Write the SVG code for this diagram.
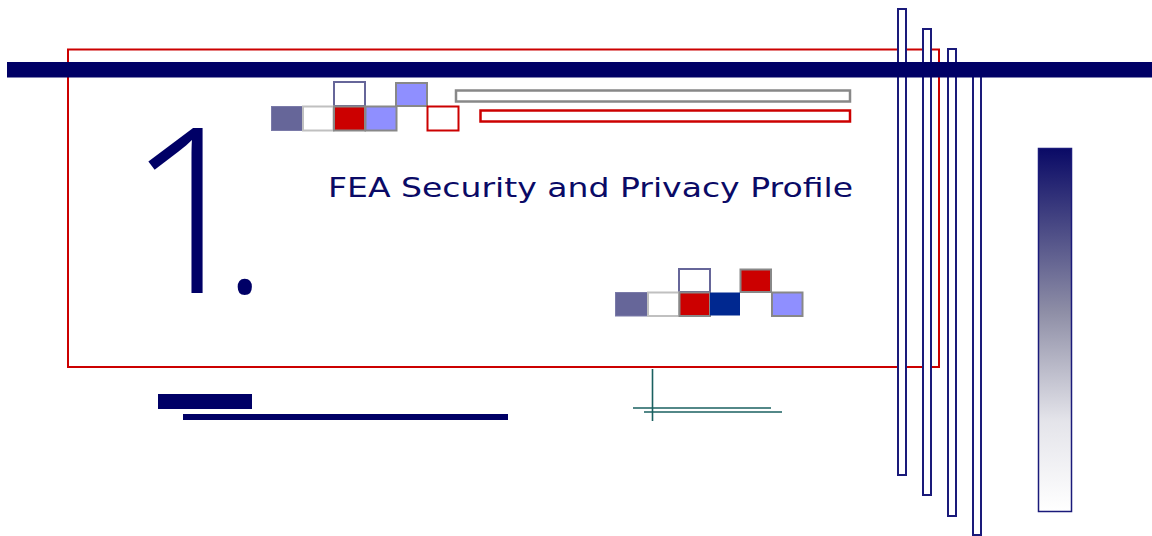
<svg xmlns="http://www.w3.org/2000/svg" width="1152" height="536" viewBox="0 0 1152 536">
  <defs>
    <linearGradient id="fade" x1="0" y1="0" x2="0" y2="1">
      <stop offset="0" stop-color="#0a0a66"/>
      <stop offset="0.45" stop-color="#8e8ea6"/>
      <stop offset="0.75" stop-color="#e4e4ea"/>
      <stop offset="1" stop-color="#ffffff"/>
    </linearGradient>
    <style>
      .navy { fill: #000066; }
      .post { fill: #ffffff; stroke: #1a1a7a; stroke-width: 2; }
      .sq-slate { fill: #666699; stroke: #7a7aa8; stroke-width: 1; }
      .sq-white { fill: #ffffff; stroke: #c0c0c0; stroke-width: 2; }
      .sq-red { fill: #cc0000; stroke: #888888; stroke-width: 2; }
      .sq-lilac { fill: #8f8fff; stroke: #888888; stroke-width: 2; }
      .sq-blue { fill: #002890; }
      .sq-open { fill: #ffffff; stroke: #666699; stroke-width: 2; }
      .sq-redline { fill: #ffffff; stroke: #cc0000; stroke-width: 2; }
      .tick { stroke: #1a6060; stroke-width: 1.6; fill: none; }
      .title { font-family: "DejaVu Sans", "Liberation Sans", sans-serif; fill: #0a0a66; }
      .numeral { font-family: "Open Sans", "DejaVu Sans", sans-serif; font-weight: 300; fill: #000066; }
    </style>
  </defs>

  <rect width="1152" height="536" fill="#ffffff"/>

  <!-- outer red frame -->
  <rect id="frame" x="68" y="49.5" width="871" height="317.5" fill="none" stroke="#cc0000" stroke-width="2"/>

  <!-- tall outlined posts on the right -->
  <g id="posts">
    <rect class="post" x="898" y="9" width="8" height="466"/>
    <rect class="post" x="923" y="29" width="8" height="466"/>
    <rect class="post" x="948" y="49" width="8" height="467"/>
    <rect class="post" x="973" y="69" width="8" height="466"/>
  </g>

  <!-- heavy navy rule across the top -->
  <rect id="top-rule" class="navy" x="7" y="62" width="1145" height="15.5"/>

  <!-- gradient column -->
  <rect id="gradient-column" x="1038.5" y="148.5" width="33" height="363" fill="url(#fade)" stroke="#1a1a7a" stroke-width="1.5"/>

  <!-- upper tile cluster -->
  <g id="tiles-upper">
    <rect class="sq-open" x="334" y="82" width="31" height="24"/>
    <rect class="sq-lilac" x="396" y="83" width="31" height="23"/>
    <rect class="sq-slate" x="271.5" y="106.5" width="31" height="24"/>
    <rect class="sq-white" x="303" y="106.5" width="30.5" height="24"/>
    <rect class="sq-red" x="334" y="106.5" width="31" height="24"/>
    <rect class="sq-lilac" x="365.5" y="106.5" width="31" height="24"/>
    <rect class="sq-redline" x="427.5" y="106.5" width="31" height="24"/>
  </g>

  <!-- long bars beside the upper tiles -->
  <g id="bars-upper">
    <rect x="456" y="90.5" width="394" height="11" fill="#ffffff" stroke="#888888" stroke-width="2.5"/>
    <rect x="480.5" y="110.5" width="369.5" height="11" fill="#ffffff" stroke="#cc0000" stroke-width="2.5"/>
  </g>

  <!-- chapter numeral and title -->
  <g id="heading">
    <text class="numeral" x="126" y="293" font-size="230">1<tspan dx="-34" font-size="180">.</tspan></text>
    <text class="title" x="328" y="197" font-size="27" textLength="525" lengthAdjust="spacingAndGlyphs">FEA Security and Privacy Profile</text>
  </g>

  <!-- lower tile cluster -->
  <g id="tiles-lower">
    <rect class="sq-open" x="679" y="269" width="31" height="23"/>
    <rect class="sq-red" x="740.5" y="269.5" width="30.5" height="22.5"/>
    <rect class="sq-slate" x="615.5" y="292.5" width="32" height="23.5"/>
    <rect class="sq-white" x="648" y="292.5" width="31" height="23.5"/>
    <rect class="sq-red" x="679.5" y="292.5" width="30.5" height="23.5"/>
    <rect class="sq-blue" x="710" y="292.5" width="30" height="23"/>
    <rect class="sq-lilac" x="772" y="292.5" width="30.5" height="23.5"/>
  </g>

  <!-- navy bars under the frame -->
  <g id="bars-lower">
    <rect class="navy" x="158" y="394" width="94" height="15"/>
    <rect class="navy" x="183" y="414" width="325" height="6"/>
  </g>

  <!-- thin teal crossing lines -->
  <g id="crosshair">
    <line class="tick" x1="652.5" y1="369" x2="652.5" y2="421"/>
    <line class="tick" x1="633" y1="408" x2="771" y2="408"/>
    <line class="tick" x1="644" y1="412" x2="782" y2="412"/>
  </g>
</svg>
